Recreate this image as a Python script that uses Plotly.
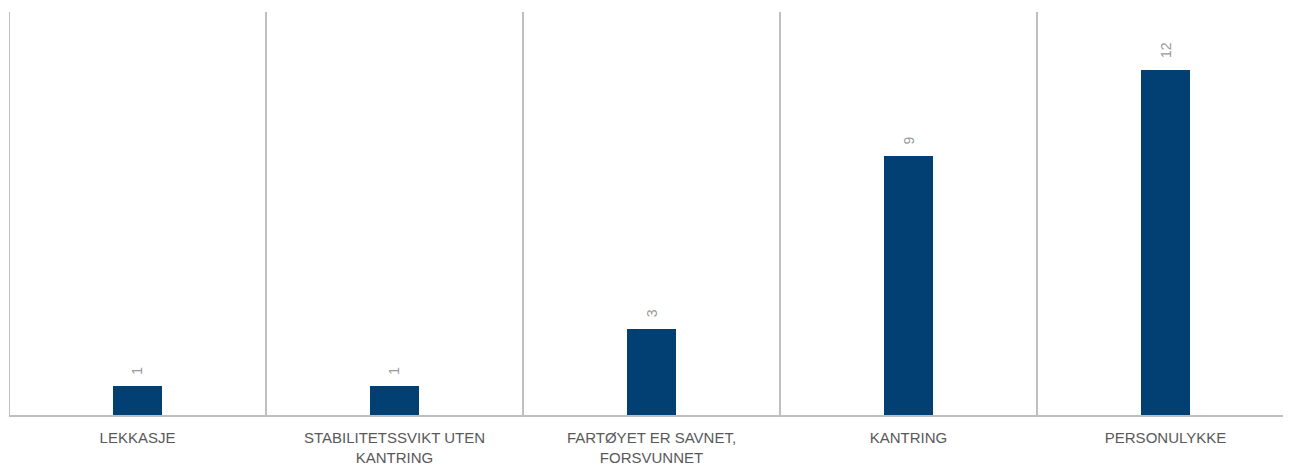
import plotly.graph_objects as go

categories = ["LEKKASJE", "STABILITETSSVIKT UTEN<br>KANTRING", "FARTØYET ER SAVNET,<br>FORSVUNNET", "KANTRING", "PERSONULYKKE"]
values = [1, 1, 3, 9, 12]

fig = go.Figure()
fig.add_trace(go.Bar(
    x=categories, y=values,
    marker=dict(color="#023f73", line=dict(width=0)),
    width=0.187,
    hoverinfo="skip",
))

for c, v in zip(categories, values):
    fig.add_annotation(x=c, y=v, text=str(v), showarrow=False, textangle=-90,
                       xanchor="center", yanchor="bottom", yshift=9,
                       font=dict(family="Liberation Sans", size=14, color="#9a9a9a"))

n = len(categories)
for i in range(n):
    fig.add_shape(type="line", xref="x", yref="paper", x0=i - 0.5, x1=i - 0.5, y0=0, y1=1,
                  line=dict(color="#bfbfbf", width=2))

fig.update_layout(
    width=1291, height=464,
    margin=dict(l=1, r=5, t=4, b=57),
    paper_bgcolor="white", plot_bgcolor="white",
    showlegend=False,
    bargap=0,
    xaxis=dict(range=[-0.5, n - 0.5], showline=True, linecolor="#bfbfbf", linewidth=2,
               showgrid=False, ticks="", tickangle=0, ticklabelstandoff=8,
               tickfont=dict(family="Liberation Sans", size=15, color="#595959")),
    yaxis=dict(range=[0, 14], showgrid=False, showticklabels=False, zeroline=False, showline=False, ticks=""),
)

fig.write_html("out.html")
